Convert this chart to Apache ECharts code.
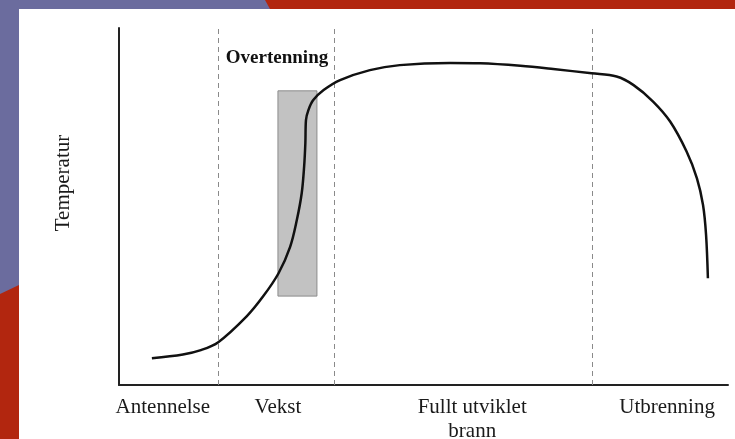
<!DOCTYPE html>
<html>
<head>
<meta charset="utf-8">
<script src="https://cdn.jsdelivr.net/npm/echarts@6/dist/echarts.min.js"></script>
<style>
html, body { margin: 0; padding: 0; }
#chart { width: 735px; height: 439px; }
</style>
</head>
<body>
<div id="chart"></div>
<script>
// fasene langs tidsaksen (0-100 = hele forløpet)
const phaseNames = ['Antennelse', 'Vekst', 'Fullt utviklet\nbrann', 'Utbrenning'];
const phasePos = [7.2, 26.1, 58.0, 90.0];
const dividerPos = [16.3, 35.3, 77.7];

// temperaturkurven, lest av figuren (relativ skala 0-100)
const curveX = [5.4, 10.5, 13.3, 16.3, 21.0, 23.7, 26.2, 28.1, 29.2, 30.0, 30.4, 30.6, 30.7, 31.1, 31.9,
  33.6, 36.3, 41.2, 46.1, 54.4, 59.3, 65.9, 71.3, 77.6, 81.7, 84.5, 87.7, 90.5, 93.2, 94.9, 95.9, 96.4, 96.7];
const curveY = [7.5, 8.55, 9.7, 12.0, 19.3, 24.9, 31.3, 38.7, 46.2, 53.7, 61.2, 67.7, 74.2, 77.0, 79.8,
  82.6, 85.4, 88.2, 89.6, 90.2, 90.1, 89.4, 88.5, 87.3, 86.4, 84.0, 79.4, 73.8, 65.4, 57.9, 50.4, 42.0, 29.9];
const curveData = curveX.map((x, i) => [x, curveY[i]]);

// overtenningsfeltet
const flashoverX = [26.1, 32.5];
const flashoverY = [24.9, 82.4];

const chart = echarts.init(document.getElementById('chart'));
const serif = '"Liberation Serif", "DejaVu Serif", serif';

const option = {
  backgroundColor: '#6b6c9e',
  animation: false,
  grid: { left: 119, right: 7, top: 28, bottom: 54, outerBoundsMode: 'none' },
  xAxis: {
    type: 'value',
    min: 0,
    max: 100,
    splitLine: { show: false },
    axisTick: { show: false },
    axisLine: { show: true, lineStyle: { color: '#222', width: 2 } },
    axisLabel: {
      customValues: phasePos,
      margin: 10,
      color: '#1a1a1a',
      fontFamily: serif,
      fontSize: 21,
      lineHeight: 24,
      formatter: v => phaseNames[phasePos.indexOf(v)] || ''
    }
  },
  yAxis: {
    type: 'value',
    min: 0,
    max: 100,
    splitLine: { show: false },
    axisTick: { show: false },
    axisLabel: { show: false },
    axisLine: { show: true, lineStyle: { color: '#222', width: 2 } }
  },
  graphic: [
    { type: 'rect', z: -100, shape: { x: 19, y: 9, width: 716, height: 430 }, style: { fill: '#ffffff' } },
    { type: 'polygon', z: -100, shape: { points: [[265, 0], [735, 0], [735, 9], [270, 9]] }, style: { fill: '#b2260f' } },
    { type: 'polygon', z: -100, shape: { points: [[0, 294], [19, 285], [19, 439], [0, 439]] }, style: { fill: '#b2260f' } },
    {
      type: 'text', x: 63, y: 183, rotation: Math.PI / 2,
      style: { text: 'Temperatur', fill: '#1a1a1a', font: '21px ' + serif, align: 'center', verticalAlign: 'middle' }
    },
    {
      type: 'text', x: 277, y: 58,
      style: { text: 'Overtenning', fill: '#111', font: 'bold 19px ' + serif, align: 'center', verticalAlign: 'middle' }
    }
  ],
  series: [
    {
      type: 'line',
      data: curveData,
      smooth: 0.35,
      showSymbol: false,
      z: 5,
      lineStyle: { color: '#111', width: 2.5 },
      markLine: {
        silent: true,
        symbol: 'none',
        label: { show: false },
        lineStyle: { color: '#8a8a8a', type: [5, 4], width: 1 },
        data: dividerPos.map(x => ({ xAxis: x }))
      },
      markArea: {
        silent: true,
        itemStyle: { color: '#c2c2c2', borderColor: '#8c8c8c', borderWidth: 1 },
        data: [[{ xAxis: flashoverX[0], yAxis: flashoverY[0] }, { xAxis: flashoverX[1], yAxis: flashoverY[1] }]]
      }
    }
  ]
};

chart.setOption(option);
</script>
</body>
</html>
